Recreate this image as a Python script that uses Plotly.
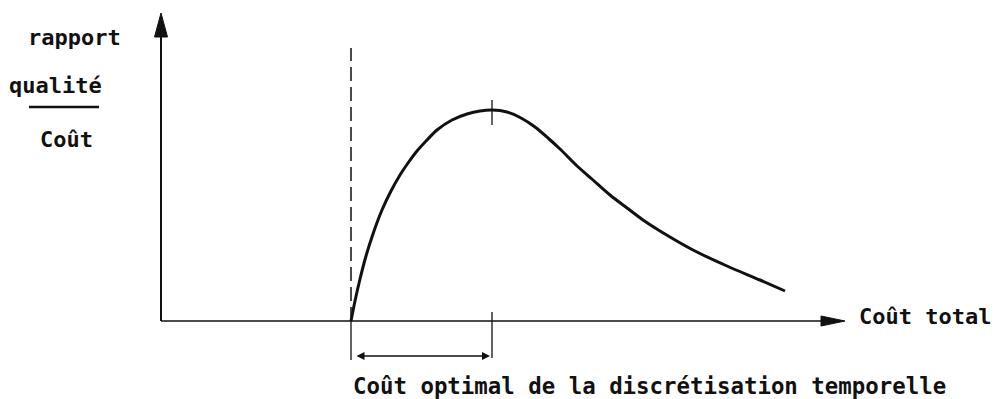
import plotly.graph_objects as go

# Courbe du rapport qualité / coût en fonction du coût total
cout_total = [1.90, 1.94, 1.99, 2.05, 2.13, 2.21, 2.30, 2.39, 2.47, 2.56,
              2.66, 2.76, 2.91, 3.06, 3.19, 3.31,
              3.46, 3.60, 3.74, 3.87, 3.99, 4.15, 4.32, 4.49, 4.66, 4.82,
              4.99, 5.32, 5.66, 5.99, 6.24]
rapport_qc = [0.00, 0.20, 0.42, 0.65, 0.90, 1.11, 1.30, 1.46, 1.58, 1.70,
              1.81, 1.91, 2.01, 2.07, 2.10, 2.11,
              2.09, 2.03, 1.94, 1.83, 1.72, 1.56, 1.41, 1.26, 1.13, 1.01,
              0.90, 0.71, 0.55, 0.41, 0.30]

# Seuil minimal (trait pointillé) et coût optimal (sommet de la courbe)
cout_minimal = 1.90
cout_optimal = 3.31
rapport_max = 2.11

# Étendue des axes dessinés
x_fin_axe = 6.84
y_fin_axe = 3.08

# Textes
label_y = ["rapport", "qualité", "Coût"]
label_x = "Coût total"
label_bas = "Coût optimal de la discrétisation temporelle"

INK = "#111111"
FONT = dict(family="DejaVu Sans Mono", size=22, color=INK, weight="bold")
FONT_BAS = dict(family="DejaVu Sans Mono", size=22.4, color=INK, weight="bold")

fig = go.Figure()

# courbe
fig.add_trace(go.Scatter(
    x=cout_total, y=rapport_qc, mode="lines",
    line=dict(color=INK, width=3, shape="spline", smoothing=0.8),
    hoverinfo="skip", showlegend=False,
))

shapes = []
# axe vertical
shapes.append(dict(type="line", xref="x", yref="y", x0=0, y0=0, x1=0, y1=y_fin_axe - 0.2,
                   line=dict(color=INK, width=2)))
shapes.append(dict(type="path", xref="x", yref="y",
                   path=f"M -0.065,{y_fin_axe - 0.24} L 0,{y_fin_axe} L 0.065,{y_fin_axe - 0.24} Z",
                   fillcolor=INK, line=dict(color=INK, width=1)))
# axe horizontal
shapes.append(dict(type="line", xref="x", yref="y", x0=0, y0=0, x1=x_fin_axe - 0.2, y1=0,
                   line=dict(color=INK, width=1.6)))
shapes.append(dict(type="path", xref="x", yref="y",
                   path=f"M {x_fin_axe - 0.24},0.05 L {x_fin_axe},0 L {x_fin_axe - 0.24},-0.05 Z",
                   fillcolor=INK, line=dict(color=INK, width=1)))
# trait pointillé vertical au coût minimal
shapes.append(dict(type="line", xref="x", yref="y", x0=cout_minimal, y0=0,
                   x1=cout_minimal, y1=2.73,
                   line=dict(color=INK, width=1.5, dash="14px,6px")))
shapes.append(dict(type="line", xref="x", yref="y", x0=cout_minimal, y0=0,
                   x1=cout_minimal, y1=-0.39, line=dict(color=INK, width=1.3)))
# repère du coût optimal sur l'axe
shapes.append(dict(type="line", xref="x", yref="y", x0=cout_optimal, y0=0.09,
                   x1=cout_optimal, y1=-0.37, line=dict(color=INK, width=1.3)))
# repère au sommet de la courbe
shapes.append(dict(type="line", xref="x", yref="y", x0=cout_optimal, y0=rapport_max + 0.10,
                   x1=cout_optimal, y1=rapport_max - 0.15, line=dict(color=INK, width=1.3)))
# barre de fraction
shapes.append(dict(type="line", xref="x", yref="y", x0=-1.32, y0=2.14, x1=-0.62, y1=2.14,
                   line=dict(color=INK, width=2.5)))

annotations = []
# flèche double de l'intervalle optimal
annotations.append(dict(
    x=cout_optimal - 0.02, y=-0.35, ax=cout_minimal + 0.04, ay=-0.35,
    xref="x", yref="y", axref="x", ayref="y", text="",
    showarrow=True, arrowhead=2, startarrowhead=2, arrowside="end+start",
    arrowsize=1, startarrowsize=1, arrowwidth=1.6, arrowcolor=INK,
))
# titre de l'axe vertical (fraction)
for txt, xc, yc in zip(label_y, [-0.87, -1.055, -0.945], [2.84, 2.36, 1.82]):
    annotations.append(dict(x=xc, y=yc, xref="x", yref="y", text=txt, showarrow=False,
                            xanchor="center", yanchor="middle", font=FONT))
# titre de l'axe horizontal
annotations.append(dict(x=6.955, y=0.05, xref="x", yref="y", text=label_x, showarrow=False,
                        xanchor="left", yanchor="middle", font=FONT))
# légende de l'intervalle
annotations.append(dict(x=1.90, y=-0.65, xref="x", yref="y", text=label_bas, showarrow=False,
                        xanchor="left", yanchor="middle", font=FONT_BAS))

fig.update_layout(
    width=997, height=399, autosize=False,
    margin=dict(l=0, r=0, t=0, b=0),
    paper_bgcolor="white", plot_bgcolor="white",
    xaxis=dict(range=[-1.61, 8.36], visible=False, fixedrange=True),
    yaxis=dict(range=[-0.78, 3.21], visible=False, fixedrange=True),
    shapes=shapes, annotations=annotations,
)

fig.write_html("out.html")
